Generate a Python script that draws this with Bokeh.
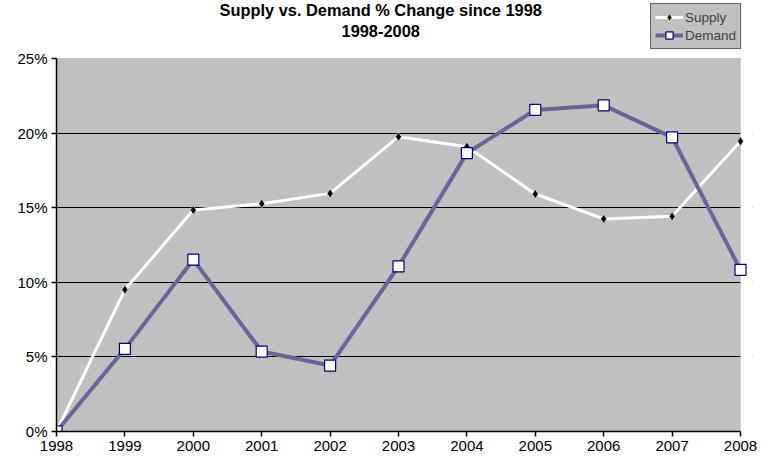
from bokeh.plotting import figure
from bokeh.models import (ColumnDataSource, Legend, LegendItem, Label, FixedTicker,
                          CustomJSTickFormatter, Range1d, BoxAnnotation)
from bokeh.embed import file_html
from bokeh.resources import INLINE

years = [1998, 1999, 2000, 2001, 2002, 2003, 2004, 2005, 2006, 2007, 2008]
supply = [0.0, 9.5, 14.85, 15.27, 15.96, 19.76, 19.09, 15.92, 14.25, 14.42, 19.45]
demand = [0.0, 5.54, 11.52, 5.36, 4.42, 11.07, 18.66, 21.55, 21.86, 19.71, 10.83]
y_ticks = [0, 5, 10, 15, 20, 25]
title_lines = ["Supply vs. Demand % Change since 1998", "1998-2008"]

FONT = "Liberation Sans"

src = ColumnDataSource(dict(year=years, supply=supply, demand=demand))

# frame extends to the top of the canvas (title/legend inside) and a bit to the right
# (so that the last markers are not clipped)
y_top = 25 * 431 / 373
x_end = 1998 + 696 / 68.4
p = figure(width=772, height=463, output_backend="svg", toolbar_location=None,
           x_range=Range1d(1998, x_end), y_range=Range1d(0, y_top),
           min_border_left=56, min_border_right=20, min_border_top=0,
           min_border_bottom=32)
p.background_fill_color = "white"
p.border_fill_color = "white"
p.outline_line_color = None

p.xgrid.visible = False
p.ygrid.grid_line_color = "black"
p.ygrid.grid_line_width = 1
p.ygrid.ticker = FixedTicker(ticks=y_ticks[1:-1])

# plot area (grey), a white cover right of it, and its border
p.add_layout(BoxAnnotation(left=years[0], right=years[-1], bottom=y_ticks[0], top=y_ticks[-1],
                           fill_color="#c0c0c0", fill_alpha=1, line_color=None,
                           level="image"))
p.add_layout(BoxAnnotation(left=years[-1], right=x_end, bottom=y_ticks[0], top=y_top,
                           fill_color="white", fill_alpha=1, line_color=None,
                           level="underlay"))
p.add_layout(BoxAnnotation(left=years[0], right=years[-1], bottom=y_ticks[0], top=y_ticks[-1],
                           fill_color=None, fill_alpha=0, line_color="#808080",
                           line_width=1, level="underlay"))

p.xaxis.ticker = FixedTicker(ticks=years)
p.yaxis.ticker = FixedTicker(ticks=y_ticks)
p.xaxis.bounds = (years[0], years[-1])
p.yaxis.bounds = (y_ticks[0], y_ticks[-1])
p.yaxis.formatter = CustomJSTickFormatter(code="return tick.toFixed(0) + '%';")
p.xaxis.formatter = CustomJSTickFormatter(code="return tick.toFixed(0);")
for ax in (p.xaxis, p.yaxis):
    ax.axis_line_color = "black"
    ax.axis_line_width = 1.5
    ax.major_tick_line_color = "black"
    ax.major_tick_line_width = 1.5
    ax.major_tick_out = 5
    ax.major_tick_in = 0
    ax.minor_tick_line_color = None
    ax.major_label_text_font = FONT
    ax.major_label_text_font_size = "15px"
    ax.major_label_text_color = "black"
    ax.major_label_standoff = 4

r_sl = p.line("year", "supply", source=src, line_color="white", line_width=3)
r_sm = p.scatter("year", "supply", source=src, marker="diamond", size=9,
                 fill_color="black", line_color="white", line_width=0.5)
r_dl = p.line("year", "demand", source=src, line_color="#666699", line_width=4)
r_dm = p.scatter("year", "demand", source=src, marker="square", size=11,
                 fill_color="white", line_color="#000080", line_width=1.2)

legend = Legend(items=[LegendItem(label="Supply", renderers=[r_sl, r_sm]),
                       LegendItem(label="Demand", renderers=[r_dl, r_dm])],
                location=(594, 382))
legend.background_fill_color = "#c0c0c0"
legend.background_fill_alpha = 1
legend.border_line_color = "black"
legend.border_line_width = 1
legend.label_text_font = FONT
legend.label_text_font_size = "13.5px"
legend.label_height = 18
legend.glyph_height = 18
legend.glyph_width = 28
legend.label_standoff = 2
legend.spacing = 0
legend.padding = 4
legend.margin = 0
p.add_layout(legend, "center")

cx = 2002.74
p.add_layout(Label(x=cx, y=27.68, text=title_lines[0], text_align="center",
                   text_font=FONT, text_font_size="16.4px", text_font_style="bold",
                   text_color="black"))
p.add_layout(Label(x=cx, y=26.45, text=title_lines[1], text_align="center",
                   text_font=FONT, text_font_size="16.4px", text_font_style="bold",
                   text_color="black"))

open("out.html", "w").write(file_html(p, INLINE))
